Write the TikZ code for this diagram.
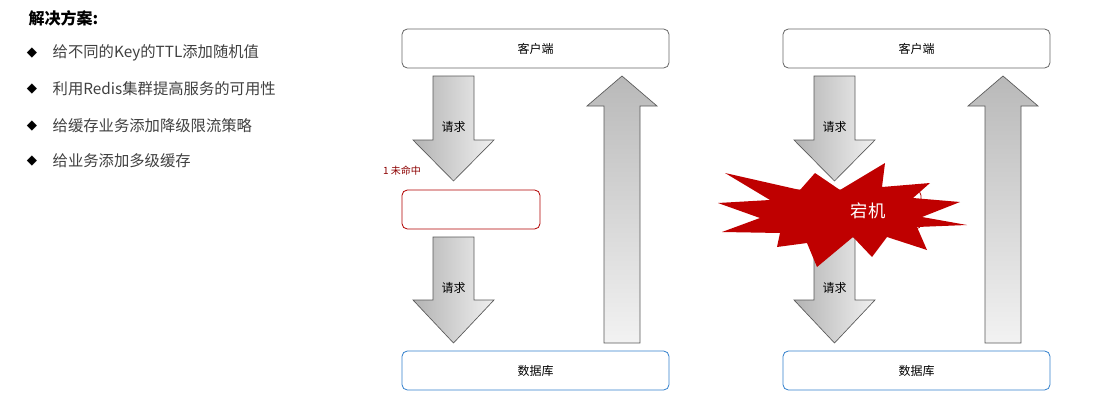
\documentclass[tikz,border=0pt]{standalone}
\usepackage{fontspec}
\setmainfont{Noto Sans CJK SC}
\newfontfamily\cjk{Noto Sans CJK SC}
\newfontfamily\dv{DejaVu Sans}
\begin{document}
\begin{tikzpicture}[x=0.75pt,y=-0.75pt,
 box/.style={draw=#1,rounded corners=4pt,fill=white,line width=0.6pt},
 downarr/.style={draw=gray!70!black,line width=0.5pt,left color=gray!60,right color=gray!12},
 uparr/.style={draw=gray!70!black,line width=0.5pt,top color=gray!55,bottom color=gray!10},
 lbl/.style={font=\fontsize{9}{11}\selectfont},
 item/.style={anchor=west,font=\fontsize{11.5}{14}\selectfont,text=black!75}]
\useasboundingbox (0,0) rectangle (1115,418);
% left list
\node[anchor=west,font=\bfseries\fontsize{12}{14}\selectfont] (t) at (24,18) {解决方案:};
\foreach \y/\t [count=\i] in {53/给不同的Key的TTL添加随机值,89/利用Redis集群提高服务的可用性,126/给缓存业务添加降级限流策略,161/给业务添加多级缓存}{
 \node[font=\dv\fontsize{10}{12}\selectfont] (b\i) at (32,\y) {◆};
 \node[item] (l\i) at (48,\y) {\t};
}
% left diagram
\foreach \dx/\s in {0/L,381/R}{
 \begin{scope}[xshift=\dx*0.75pt]
 \node[box=black!60,minimum width=267*0.75pt,minimum height=39*0.75pt,lbl] (c\s) at (535.5,48.5) {客户端};
 \node[box=blue!50!cyan!60!gray,minimum width=267*0.75pt,minimum height=39*0.75pt,lbl] (d\s) at (535.5,370.5) {数据库};
 \path[uparr] (604,343) -- (604,106) -- (587,106) -- (622,76) -- (657,106) -- (640,106) -- (640,343) -- cycle;
 \path[downarr] (433,76) -- (474,76) -- (474,140) -- (494,140) -- (453.5,181) -- (413,140) -- (433,140) -- cycle;
 \node[lbl] (q1\s) at (453.5,127) {请求};
 \path[downarr] (433,237) -- (474,237) -- (474,300) -- (494,300) -- (453.5,343) -- (413,300) -- (433,300) -- cycle;
 \node[lbl] (q2\s) at (453.5,288) {请求};
 \node[box=red!70!black,minimum width=138*0.75pt,minimum height=39*0.75pt] (r\s) at (471,209.5) {};
 \end{scope}
}
\node[font=\fontsize{7.5}{9}\selectfont,text=red!55!black] (m) at (402,171) {1 未命中};
\fill[red!75!black] (725,173)--(800,190)--(815,173)--(840,190)--(885,163)--(882,187)--(930,183)--(913,198)--(960,202)--(922,217)--(967,225)--(917,227)--(927,250)--(887,237)--(872,257)--(853,237)--(817,267)--(807,243)--(777,247)--(780,233)--(722,232)--(760,218)--(718,203)--(770,200)--cycle;
\node[text=white,font=\fontsize{13}{15}\selectfont] (dj) at (868,211) {宕机};
\end{tikzpicture}
\end{document}
